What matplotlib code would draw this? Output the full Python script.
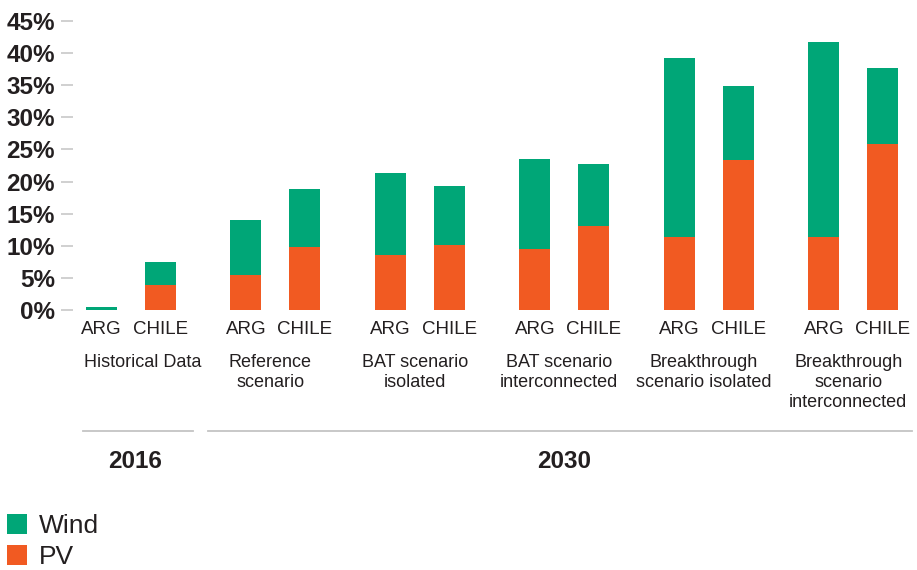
import matplotlib
matplotlib.use("Agg")
import matplotlib.pyplot as plt
import matplotlib.transforms as mtransforms
import numpy as np

plt.rcParams['font.family'] = ['Liberation Sans', 'DejaVu Sans']

countries = ["ARG", "CHILE"]
scenarios = ["Historical Data", "Reference\nscenario", "BAT scenario\nisolated",
             "BAT scenario\ninterconnected", "Breakthrough\nscenario isolated",
             "Breakthrough\nscenario\ninterconnected"]
# share of generation (%), per scenario: [ARG, CHILE]
pv = [[0.0, 3.9], [5.45, 9.8], [8.55, 10.1], [9.5, 13.1], [11.3, 23.4], [11.3, 25.9]]
wind = [[0.4, 3.6], [8.55, 9.05], [12.75, 9.2], [14.0, 9.6], [28.0, 11.5], [30.4, 11.8]]
yticks = [0, 5, 10, 15, 20, 25, 30, 35, 40, 45]

GREEN = "#00a677"
ORANGE = "#f15a22"
TEXT = "#231f20"

W, H = 917, 570
fig = plt.figure(figsize=(W / 100, H / 100), dpi=100)
ax = fig.add_axes([73 / W, (H - 310) / H, (915 - 73) / W, 289 / H])

pv = np.array(pv)
wind = np.array(wind)
groups = np.arange(len(scenarios))
offset, width = 0.204, 0.2145
for j, sign in enumerate([-1, 1]):
    x = groups + sign * offset
    b_pv = ax.bar(x, pv[:, j], width, color=ORANGE, linewidth=0)
    b_wind = ax.bar(x, wind[:, j], width, bottom=pv[:, j], color=GREEN, linewidth=0)

ax.set_xlim(-0.3997, 5.427)
ax.set_ylim(0, 45)
ax.set_yticks(yticks)
ax.set_yticklabels([f"{t}%" for t in yticks], fontsize=17.5, fontweight="bold", color=TEXT)
ax.tick_params(axis="y", length=9, width=1.1, color="#c4c4c4", pad=4)
ax.set_xticks([])
for s in ax.spines.values():
    s.set_visible(False)

# labels under the bars: x in data units, y in figure pixels
tr = mtransforms.blended_transform_factory(ax.transData, fig.transFigure)
def fy(px):
    return 1 - px / H

for k in groups:
    for sign, c in zip([-1, 1], countries):
        ax.text(k + sign * offset, fy(329), c, transform=tr, ha="center", va="center",
                fontsize=13.5, color=TEXT)
    nudge = 0.08 if k == 0 else -0.035
    ax.text(k + nudge, fy(354), scenarios[k], transform=tr, ha="center", va="top",
            fontsize=13, color=TEXT, linespacing=1.23)

# year brackets
for x0, x1, label, xc in [(-0.33, 0.431, "2016", 0.03), (0.535, 5.406, "2030", 3.0)]:
    ax.plot([x0, x1], [fy(431), fy(431)], transform=tr, color="#c4c4c4", lw=1.3, clip_on=False)
    ax.text(xc, fy(461), label, transform=tr, ha="center", va="center",
            fontsize=17.5, fontweight="bold", color=TEXT)

fig.legend([b_wind, b_pv], ["Wind", "PV"], loc="upper left",
           bbox_to_anchor=(7 / W, fy(514)), frameon=False, fontsize=19,
           handlelength=0.76, handleheight=0.76, handletextpad=0.45,
           labelspacing=0.28, borderpad=0, borderaxespad=0, labelcolor=TEXT)

fig.savefig("out.png", dpi=100)
